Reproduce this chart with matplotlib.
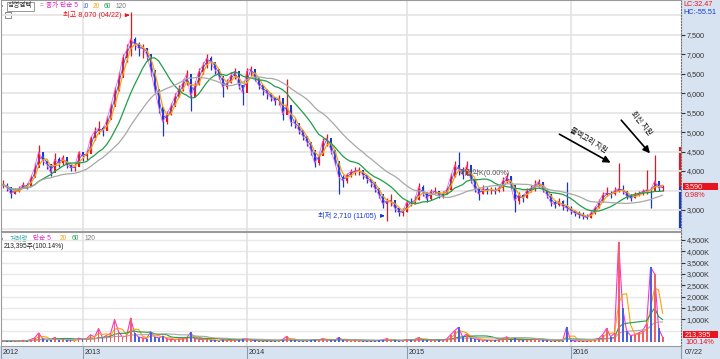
import numpy as np
import pandas as pd
import matplotlib
matplotlib.use('Agg')
import matplotlib.pyplot as plt

plt.rcParams['font.family'] = ['Liberation Sans', 'Noto Sans CJK KR', 'DejaVu Sans']

# roughly one bar per 6 trading days, mid 2012 .. 2016-07-22
close = [3650, 3580, 3420, 3480, 3540, 3650, 3600, 3820, 4080, 4500,
         4260, 4180, 3950, 4300, 4200, 4350, 4150, 4080, 4100, 4480,
         4380, 4450, 4850, 5020, 5100, 5020, 5300, 5650, 6050, 6400,
         6900, 7100, 7400, 7250, 7150, 7150, 7000, 6600, 6100, 5650,
         5250, 5450, 5650, 5900, 6100, 6250, 6500, 5900, 6200, 6550,
         6700, 6900, 6800, 6620, 6450, 6150, 6250, 6450, 6560, 6200,
         6000, 6560, 6620, 6390, 6200, 6080, 6000, 5900, 5790, 5870,
         5450, 5700, 5250, 5230, 5050, 4900, 4750, 4550, 4200, 4380,
         4760, 4850, 4550, 4250, 3850, 3750, 3900, 3980, 4000, 4030,
         3900, 3800, 3720, 3560, 3400, 3150, 3220, 3250, 3050, 2930,
         2950, 3200, 3180, 3250, 3600, 3450, 3270, 3480, 3480, 3380,
         3420, 3520, 3850, 4150, 4050, 3900, 4150, 3800, 3550, 3400,
         3550, 3520, 3520, 3480, 3560, 3750, 3860, 3650, 3220, 3390,
         3300, 3500, 3560, 3650, 3730, 3520, 3400, 3200, 3140, 3220,
         3090, 3050, 2980, 2920, 2880, 2840, 2800, 2920, 3050, 3200,
         3390, 3440, 3400, 3500, 3550, 3500, 3350, 3300, 3390, 3420,
         3480, 3520, 3500, 3750, 3560, 3590]
high = [3780, 3700, 3520, 3560, 3620, 3720, 3700, 3900, 4200, 4680,
        4450, 4300, 4150, 4460, 4350, 4400, 4300, 4180, 4200, 4520,
        4480, 4550, 4900, 5120, 5280, 5150, 5400, 5750, 6150, 6550,
        7000, 7250, 8070, 7450, 7300, 7250, 7150, 6800, 6350, 6000,
        5550, 5550, 5750, 6000, 6200, 6350, 6600, 6300, 6300, 6650,
        6800, 7000, 6950, 6750, 6600, 6400, 6350, 6550, 6650, 6400,
        6200, 6650, 6700, 6550, 6350, 6200, 6100, 6000, 5900, 5950,
        5650, 6350, 5600, 5350, 5200, 5050, 4900, 4700, 4450, 4450,
        4850, 4950, 4750, 4500, 4200, 3900, 3950, 4050, 4100, 4100,
        4000, 3900, 3800, 3700, 3550, 3350, 3300, 3400, 3200, 3050,
        3050, 3250, 3300, 3350, 3700, 3650, 3450, 3550, 3600, 3500,
        3500, 3600, 3950, 4250, 4500, 4100, 4250, 4100, 3750, 3550,
        3650, 3600, 3600, 3580, 3650, 3850, 3950, 3850, 3600, 3450,
        3420, 3560, 3650, 3780, 3800, 3700, 3550, 3420, 3250, 3300,
        3250, 3730, 3100, 3000, 2980, 2950, 2900, 2980, 3100, 3280,
        3450, 3600, 3500, 3600, 4210, 3650, 3500, 3400, 3450, 3500,
        3550, 4030, 3600, 4420, 3700, 3650]
low = [3560, 3500, 3310, 3400, 3460, 3560, 3540, 3620, 3900, 4300,
       4150, 4050, 3880, 4050, 4100, 4150, 4080, 4000, 4000, 4150,
       4250, 4280, 4500, 4800, 4950, 4900, 5050, 5350, 5700, 6050,
       6450, 6800, 6950, 7100, 6950, 6900, 6850, 6450, 6000, 5500,
       4900, 5200, 5450, 5700, 5900, 6050, 6200, 5530, 5900, 6200,
       6500, 6650, 6600, 6500, 6350, 5900, 6100, 6250, 6350, 6100,
       5700, 6250, 6450, 6300, 6100, 5950, 5850, 5800, 5700, 5700,
       5300, 5550, 5150, 5100, 4950, 4800, 4650, 4400, 4100, 4150,
       4400, 4650, 4450, 4150, 3400, 3600, 3700, 3850, 3900, 3900,
       3800, 3700, 3600, 3450, 3300, 3050, 2710, 3100, 2950, 2850,
       2850, 2950, 3100, 3150, 3250, 3350, 3200, 3250, 3400, 3300,
       3320, 3400, 3500, 3850, 3900, 3800, 3900, 3700, 3450, 3250,
       3400, 3420, 3400, 3400, 3450, 3500, 3700, 3550, 2950, 3150,
       3200, 3300, 3450, 3500, 3600, 3450, 3300, 3100, 3050, 3100,
       3000, 2980, 2900, 2850, 2800, 2760, 2760, 2800, 2900, 3050,
       3200, 3350, 3320, 3380, 3450, 3400, 3280, 3220, 3300, 3350,
       3380, 3400, 3050, 3600, 3480, 3500]
# volume, thousand shares
volume = [50, 40, 60, 50, 45, 70, 50, 110, 180, 400,
          150, 110, 90, 200, 110, 130, 90, 70, 60, 170,
          130, 150, 320, 220, 600, 180, 300, 380, 1000, 450,
          220, 260, 1050, 380, 220, 180, 150, 450, 220, 180,
          260, 150, 110, 110, 130, 150, 180, 420, 150, 130,
          110, 130, 90, 70, 60, 110, 70, 90, 110, 90,
          130, 150, 90, 70, 60, 55, 50, 55, 50, 60,
          110, 250, 90, 70, 60, 55, 60, 70, 110, 90,
          150, 110, 90, 70, 200, 90, 70, 60, 70, 55,
          50, 40, 50, 55, 70, 90, 150, 90, 70, 55,
          60, 110, 90, 110, 200, 110, 90, 100, 80, 70,
          90, 130, 320, 500, 650, 220, 350, 180, 150, 110,
          90, 70, 80, 70, 90, 150, 230, 110, 190, 110,
          90, 110, 100, 150, 110, 90, 70, 60, 55, 60,
          55, 650, 70, 55, 50, 45, 45, 60, 110, 150,
          320, 600, 230, 400, 4400, 1500, 500, 280, 320, 400,
          500, 800, 3300, 3000, 600, 213]
year_labels = ['2012', '2013', '2014', '2015', '2016']
year_start = [0, 20, 61, 101, 142]
price_ticks = [3000, 4000, 4500, 5000, 5500, 6000, 6500, 7000, 7500]
ma_days = [5, 10, 20, 60, 120]
ma_colors = ['#ff5ccd', '#3a56ff', '#ffa200', '#1f9e48', '#a8a8a8']
vol_ma_days = [5, 20, 60, 120]
vol_ma_colors = ['#ff30d0', '#ffa200', '#1f9e48', '#a8a8a8']
days_per_bar = 6

W, H = 720, 359
PANEL = '#d8e3f1'
UP, DOWN = '#e8141e', '#1439d2'
FS = 5.2
LFS = 4.8


def rect(x0, y0, x1, y1):
    return [x0 / W, 1 - y1 / H, (x1 - x0) / W, (y1 - y0) / H]


fig = plt.figure(figsize=(7.2, 3.59), dpi=100)

bg = fig.add_axes([0, 0, 1, 1])
bg.set_xlim(0, W)
bg.set_ylim(H, 0)
bg.axis('off')
bg.add_patch(plt.Rectangle((681, 0), 39, H, color=PANEL, lw=0))
bg.add_patch(plt.Rectangle((0, 346), W, 13, color=PANEL, lw=0))

c = np.array(close, float)
o = np.r_[c[0], c[:-1]]
hi = np.array(high, float)
lo = np.array(low, float)
vol = np.array(volume, float)
idx = np.arange(len(c))
up = c >= o
cols = np.where(up, UP, DOWN)

# ---- price panel
ax = fig.add_axes(rect(1, 0, 681, 231))
ax.patch.set_visible(False)
ax.set_xlim(-0.4, 169.6)
ax.set_ylim(2461, 8390)
for lvl in range(2500, 8001, 500):
    ax.axhline(lvl, color='#e6e6e6', lw=1.3, zorder=0)
for xs in year_start[1:]:
    ax.axvline(xs, color='#e3e3e3', lw=1.2, zorder=0)

ax.vlines(idx, lo, hi, colors=cols, lw=0.9, zorder=2)
ax.bar(idx, np.maximum(np.abs(c - o), 12), bottom=np.minimum(c, o),
       width=0.5, color=cols, lw=0, zorder=2)
for d, col in zip(ma_days, ma_colors):
    w = max(1, round(d / days_per_bar))
    ma = pd.Series(c).rolling(w, min_periods=1).mean()
    ax.plot(idx, ma, color=col, lw=0.9 if d >= 20 else 0.6, zorder=3)

ax.yaxis.tick_right()
ax.set_yticks(price_ticks)
ax.set_yticklabels([f'{v:,}' for v in price_ticks])
ax.tick_params(axis='y', length=3, pad=1, labelsize=FS, colors='#333333')
ax.set_xticks([])
for s in ['left', 'top', 'bottom']:
    ax.spines[s].set_color('#9a9a9a')
ax.spines['right'].set_color('#6f6f6f')
ax.spines['right'].set_linestyle(':')

# annotations
imax = int(np.argmax(hi))
imin = int(np.argmin(lo))
ax.annotate(f'최고 {hi[imax]:,.0f} (04/22)', xy=(imax - 0.3, 8000), xytext=(imax - 2.2, 8000),
            ha='right', va='center', fontsize=FS, color='#e8141e',
            arrowprops=dict(arrowstyle='-|>', color='#e8141e', lw=0.8, mutation_scale=5))
ax.annotate(f'최저 {lo[imin]:,.0f} (11/05)', xy=(imin - 0.5, 2850), xytext=(imin - 2.5, 2850),
            ha='right', va='center', fontsize=FS, color='#1439d2',
            arrowprops=dict(arrowstyle='-|>', color='#1439d2', lw=0.8, mutation_scale=5))
ax.text(114.2, 3960, '미결약K(0.00%)', fontsize=FS, color='#555555', va='center')

ax.annotate('', xy=(152.6, 4180), xytext=(138.6, 4980),
            arrowprops=dict(arrowstyle='-|>', color='black', lw=1.2, mutation_scale=10))
ax.text(141.5, 4990, '볼덱고리 지원', rotation=-31, rotation_mode='anchor',
        fontsize=FS, color='black', ha='left', va='bottom')
ax.annotate('', xy=(162.3, 4400), xytext=(154.2, 5360),
            arrowprops=dict(arrowstyle='-|>', color='black', lw=1.2, mutation_scale=10))
ax.text(156.6, 5450, '회신 지원', rotation=-51, rotation_mode='anchor',
        fontsize=FS, color='black', ha='left', va='bottom')

# legend row
bg.text(1, 6, '▫', fontsize=LFS, color='#555555', va='center')
bg.text(8, 6, '삼영엠텍', fontsize=LFS, color='#333333', va='center',
        bbox=dict(boxstyle='square,pad=0.15', fc='white', ec='#888888', lw=0.6))
for txt, col, px in [('=', '#888888', 40), ('종가 단순 5', '#e020c0', 46), ('10', '#3a56ff', 82),
                     ('20', '#ffa200', 93), ('60', '#1f9e48', 104), ('120', '#777777', 116)]:
    bg.text(px, 6, txt, fontsize=LFS, color=col, va='center')
bg.add_patch(plt.Rectangle((5, 12), 6, 6, fc='white', ec='#777777', lw=0.6))

# right axis info
bg.text(683, 4, 'LC:32.47', fontsize=FS, color='#e8141e', va='center')
bg.text(683, 12, 'HC:-55.51', fontsize=FS, color='#1439d2', va='center')
bg.vlines(679.5, 147, 186.5, color='#e8141e', lw=1.6)
bg.vlines(679.5, 186.5, 230, color='#1439d2', lw=1.6)
bg.add_patch(plt.Rectangle((682.5, 182.5), 35, 7.5, color='#e8141e', lw=0))
bg.text(685, 186.3, f'{c[-1]:,.0f}', fontsize=FS, color='white', va='center')
pct = (c[-1] / 3555 - 1) * 100
bg.text(685, 195.5, f'{pct:.2f}%', fontsize=FS, color='#e8141e', va='center')

# ---- volume panel
vax = fig.add_axes(rect(1, 232, 681, 346))
vax.patch.set_visible(False)
vax.set_xlim(-0.4, 169.6)
vax.set_ylim(-176, 4853)
for lvl in range(500, 4501, 500):
    vax.axhline(lvl, color='#e8e8e8', lw=1.0, zorder=0)
for xs in year_start[1:]:
    vax.axvline(xs, color='#e3e3e3', lw=1.2, zorder=0)
vax.bar(idx, vol, width=0.45, color=np.where(up, '#f0606a', '#4a62e0'), lw=0, zorder=3)
for d, col in zip(vol_ma_days, vol_ma_colors):
    w = max(1, round(d / days_per_bar))
    ma = pd.Series(vol).rolling(w, min_periods=1).mean()
    vax.plot(idx, ma, color=col, lw=0.8, zorder=2)
vax.yaxis.tick_right()
vax.set_yticks(range(1000, 4501, 500))
vax.set_yticklabels([f'{v // 1000:,},{v % 1000:03d}K' for v in range(1000, 4501, 500)])
vax.tick_params(axis='y', length=3, pad=1, labelsize=FS, colors='#333333')
vax.set_xticks([])
for s in ['left', 'top', 'bottom']:
    vax.spines[s].set_color('#9a9a9a')
vax.spines['right'].set_color('#6f6f6f')
vax.spines['right'].set_linestyle(':')

bg.text(1, 239, '▫', fontsize=LFS, color='#555555', va='center')
for txt, col, px in [('거래량', '#20a0a0', 10), ('단순 5', '#e020c0', 33),
                     ('20', '#ffa200', 60), ('60', '#1f9e48', 72), ('120', '#777777', 85)]:
    bg.text(px, 239, txt, fontsize=LFS, color=col, va='center')
bg.text(4, 246, f'{vol[-1] * 1000 + 395:,.0f}주(100.14%)', fontsize=LFS,
        color='#222222', va='center')
bg.add_patch(plt.Rectangle((682.5, 331), 35, 7, color='#e8141e', lw=0))
bg.text(685, 334.5, f'{vol[-1] * 1000 + 395:,.0f}', fontsize=FS, color='white', va='center')
bg.text(685, 342.5, '100.14%', fontsize=FS, color='#e8141e', va='center')

# ---- date band
for lab, xs in zip(year_labels, year_start):
    px = 1 + (xs + 0.4) * 4 if xs else 1
    bg.vlines(px, 346, 359, color='#8c9bb0', lw=0.8)
    bg.text(px + 2, 353, lab, fontsize=FS, color='#333333', va='center')
bg.vlines(681, 346, 359, color='#8c9bb0', lw=0.8)
bg.text(685, 353, '07/22', fontsize=FS, color='#333333', va='center')

fig.savefig('out.png', dpi=100)
